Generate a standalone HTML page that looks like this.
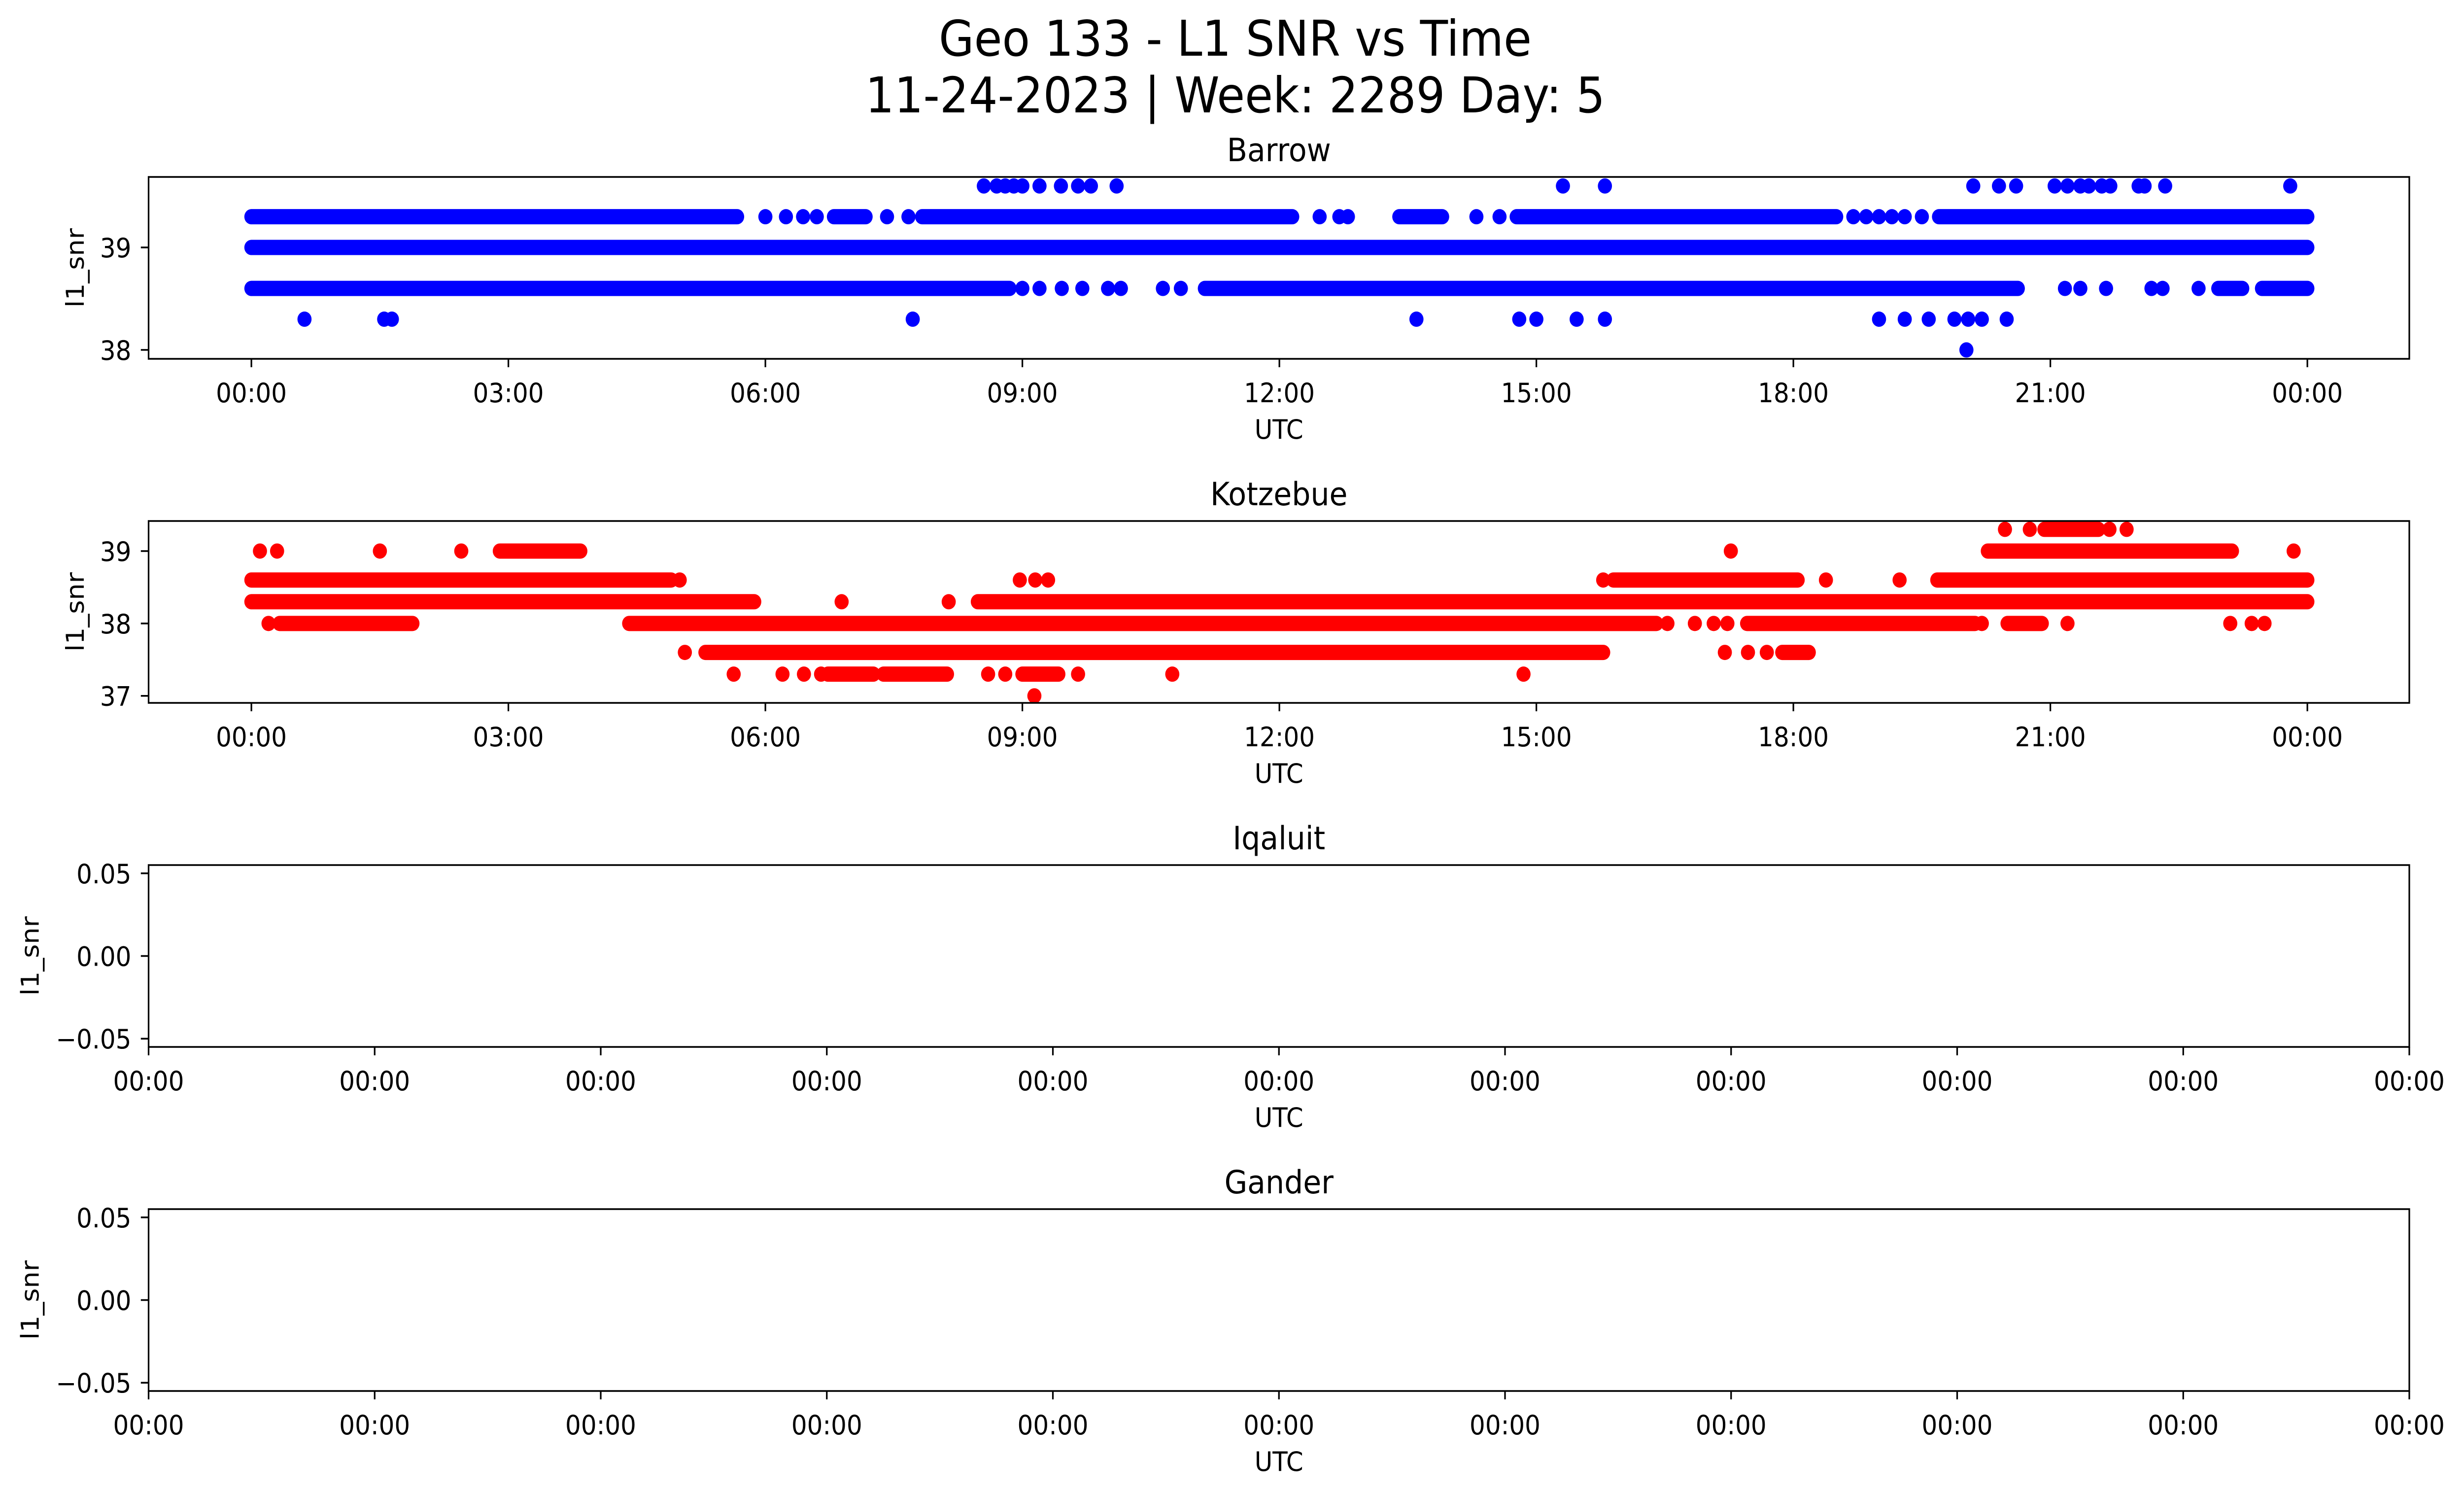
<!DOCTYPE html>
<html><head><meta charset="utf-8"><style>
html,body{margin:0;padding:0;background:#fff;width:100%;height:100%;overflow:hidden}
svg{display:block;width:100vw;height:100vh}
text{font-family:"DejaVu Sans","Liberation Sans",sans-serif;fill:#000}
</style></head><body>
<svg id="fig" viewBox="0 0 5406 3033" preserveAspectRatio="none" xmlns="http://www.w3.org/2000/svg">
<rect x="0" y="0" width="5406" height="3033" fill="#fff"/>
<text x="2710" y="113" font-size="100" text-anchor="middle">Geo 133 - L1 SNR vs Time</text>
<text x="2710" y="228" font-size="100" text-anchor="middle">11-24-2023 | Week: 2289 Day: 5</text>
<g id="plots"></g>
</svg>
<script>
// ---- Barrow data (hours UTC, SNR) ----
const barrowRunStart = [0, 0, 6.8, 7.83, 13.4, 14.77, 19.7, 0, 11.13, 22.96, 23.47];
const barrowRunEnd   = [24, 5.67, 7.17, 12.15, 13.9, 18.5, 24, 8.85, 20.62, 23.24, 24];
const barrowRunSnr   = [39.0, 39.3, 39.3, 39.3, 39.3, 39.3, 39.3, 38.6, 38.6, 38.6, 38.6];
const barrowPtTime = [6.0,6.24,6.44,6.6,7.42,7.67,12.47,12.7,12.8,14.3,14.57,18.7,18.85,19.0,19.15,19.3,19.5,
  8.55,8.7,8.8,8.9,9.0,9.2,9.45,9.65,9.8,10.1,15.31,15.8,20.1,20.4,20.6,21.05,21.2,21.35,21.45,21.6,21.7,22.03,22.1,22.34,23.8,
  9.0,9.2,9.46,9.7,10.0,10.15,10.64,10.85,21.17,21.35,21.65,22.18,22.31,22.73,
  0.62,1.55,1.64,7.72,13.6,14.8,15.0,15.47,15.8,19.0,19.3,19.58,19.88,20.04,20.2,20.49,
  20.02];
const barrowPtSnr = [39.3,39.3,39.3,39.3,39.3,39.3,39.3,39.3,39.3,39.3,39.3,39.3,39.3,39.3,39.3,39.3,39.3,
  39.6,39.6,39.6,39.6,39.6,39.6,39.6,39.6,39.6,39.6,39.6,39.6,39.6,39.6,39.6,39.6,39.6,39.6,39.6,39.6,39.6,39.6,39.6,39.6,39.6,
  38.6,38.6,38.6,38.6,38.6,38.6,38.6,38.6,38.6,38.6,38.6,38.6,38.6,38.6,
  38.3,38.3,38.3,38.3,38.3,38.3,38.3,38.3,38.3,38.3,38.3,38.3,38.3,38.3,38.3,38.3,
  38.0];
const barrowYTicks = [38, 39];

// ---- Kotzebue data ----
const kotzRunStart = [0, 15.9, 19.68, 0, 8.48, 0.33, 4.41, 17.46, 20.5, 5.3, 17.87, 2.9, 20.27, 20.93, 6.73, 7.38, 9.0];
const kotzRunEnd   = [4.9, 18.05, 24, 5.87, 24, 1.88, 16.4, 20.12, 20.9, 15.78, 18.18, 3.84, 23.12, 21.56, 7.26, 8.12, 9.42];
const kotzRunSnr   = [38.6, 38.6, 38.6, 38.3, 38.3, 38.0, 38.0, 38.0, 38.0, 37.6, 37.6, 39.0, 39.0, 39.3, 37.3, 37.3, 37.3];
const kotzPtTime = [20.47,20.76,21.69,21.89,
  0.1,0.3,1.5,2.45,17.27,23.84,
  5.0,8.97,9.15,9.3,15.78,18.38,19.24,
  6.89,8.14,
  0.2,16.53,16.85,17.07,17.23,20.2,21.2,23.1,23.35,23.5,
  5.06,17.2,17.47,17.69,
  5.63,6.2,6.45,6.65,8.6,8.8,9.65,10.75,14.85,
  9.14];
const kotzPtSnr = [39.3,39.3,39.3,39.3,
  39.0,39.0,39.0,39.0,39.0,39.0,
  38.6,38.6,38.6,38.6,38.6,38.6,38.6,
  38.3,38.3,
  38.0,38.0,38.0,38.0,38.0,38.0,38.0,38.0,38.0,38.0,
  37.6,37.6,37.6,37.6,
  37.3,37.3,37.3,37.3,37.3,37.3,37.3,37.3,37.3,
  37.0];
const kotzYTicks = [37, 38, 39];

// ---- shared tick labels ----
const timeTickHours = [0, 3, 6, 9, 12, 15, 18, 21, 24];
const timeTickLabels = ["00:00","03:00","06:00","09:00","12:00","15:00","18:00","21:00","00:00"];
const emptyYTicks = [0.05, 0.00, -0.05];
const emptyYTickLabels = ["0.05","0.00","\u22120.05"];
const emptyXTickLabels = ["00:00","00:00","00:00","00:00","00:00","00:00","00:00","00:00","00:00","00:00","00:00"];

const NS = "http://www.w3.org/2000/svg";
const root = document.getElementById('plots');
const L = 326, R = 5286, H = 369;
function mk(tag, attrs, parent) {
  const e = document.createElementNS(NS, tag);
  for (const k in attrs) e.setAttribute(k, attrs[k]);
  parent.appendChild(e);
  return e;
}
function txt(s, attrs, parent) { const e = mk('text', attrs, parent); e.textContent = s; return e; }

function panel(name, top, xlim, ylim, color, runs, pts, yticks, yLabels, xticks, xLabels, ylabX) {
  const g = mk('g', {}, root);
  
  
  const bottom = top + H;
  const xs = h => L + (h - xlim[0]) / (xlim[1] - xlim[0]) * (R - L);
  const ys = v => bottom - (v - ylim[0]) / (ylim[1] - ylim[0]) * H;
  const clipId = 'clip-' + name;
  const cp = mk('clipPath', {id: clipId}, g);
  mk('rect', {x: L, y: top, width: R - L, height: H}, cp);
  const marks = mk('g', {'clip-path': 'url(#' + clipId + ')'}, g);
  
  
  if (runs) {
    for (let i = 0; i < runs[0].length; i++) {
      const ln = mk('line', {x1: xs(runs[0][i]), x2: xs(runs[1][i]), y1: ys(runs[2][i]), y2: ys(runs[2][i]),
        stroke: color, 'stroke-width': 31, 'stroke-linecap': 'round'}, marks);
      
      
    }
    for (let i = 0; i < pts[0].length; i++) {
      const c = mk('circle', {cx: xs(pts[0][i]), cy: ys(pts[1][i]), r: 15.5, fill: color}, marks);
      
      
    }
  }
  const fr = mk('rect', {x: L, y: top, width: R - L, height: H, fill: 'none', stroke: '#000', 'stroke-width': 3.5}, g);
  
  
  yticks.forEach((v, i) => {
    const y = ys(v);
    mk('line', {x1: L - 17, x2: L, y1: y, y2: y, stroke: '#000', 'stroke-width': 3.5}, g);
    const t = txt(yLabels[i], {x: L - 38, y: y + 20, 'font-size': 54, 'text-anchor': 'end'}, g);
    
    
  });
  xticks.forEach((h, i) => {
    const x = xs(h);
    mk('line', {x1: x, x2: x, y1: bottom, y2: bottom + 17, stroke: '#000', 'stroke-width': 3.5}, g);
    const t = txt(xLabels[i], {x: x, y: bottom + 88, 'font-size': 54, 'text-anchor': 'middle'}, g);
    
    
  });
  const xl = txt('UTC', {x: (L + R) / 2, y: bottom + 162, 'font-size': 54, 'text-anchor': 'middle'}, g);
  
  
  const cy = top + H / 2;
  const yl = txt('l1_snr', {x: ylabX, y: cy, 'font-size': 54, 'text-anchor': 'middle',
    transform: 'rotate(-90 ' + ylabX + ' ' + cy + ')', dy: 19}, g);
  
  
  const tt = txt(name.charAt(0).toUpperCase() + name.slice(1), {x: (L + R) / 2, y: top - 32, 'font-size': 65, 'text-anchor': 'middle'}, g);
  
  
}

const tXlim = [-1.2, 25.19];
panel('barrow', 359, tXlim, [37.913, 39.688], 'blue',
  [barrowRunStart, barrowRunEnd, barrowRunSnr], [barrowPtTime, barrowPtSnr],
  barrowYTicks, barrowYTicks.map(String), timeTickHours, timeTickLabels, 165);
panel('kotzebue', 1057, tXlim, [36.903, 39.415], 'red',
  [kotzRunStart, kotzRunEnd, kotzRunSnr], [kotzPtTime, kotzPtSnr],
  kotzYTicks, kotzYTicks.map(String), timeTickHours, timeTickLabels, 165);
const emptyX = emptyXTickLabels.map((s, i) => i);
panel('iqaluit', 1755, [0, 10], [-0.055, 0.055], 'blue', null, null,
  emptyYTicks, emptyYTickLabels, emptyX, emptyXTickLabels, 66);
panel('gander', 2453, [0, 10], [-0.055, 0.055], 'blue', null, null,
  emptyYTicks, emptyYTickLabels, emptyX, emptyXTickLabels, 66);
</script>
</body></html>
